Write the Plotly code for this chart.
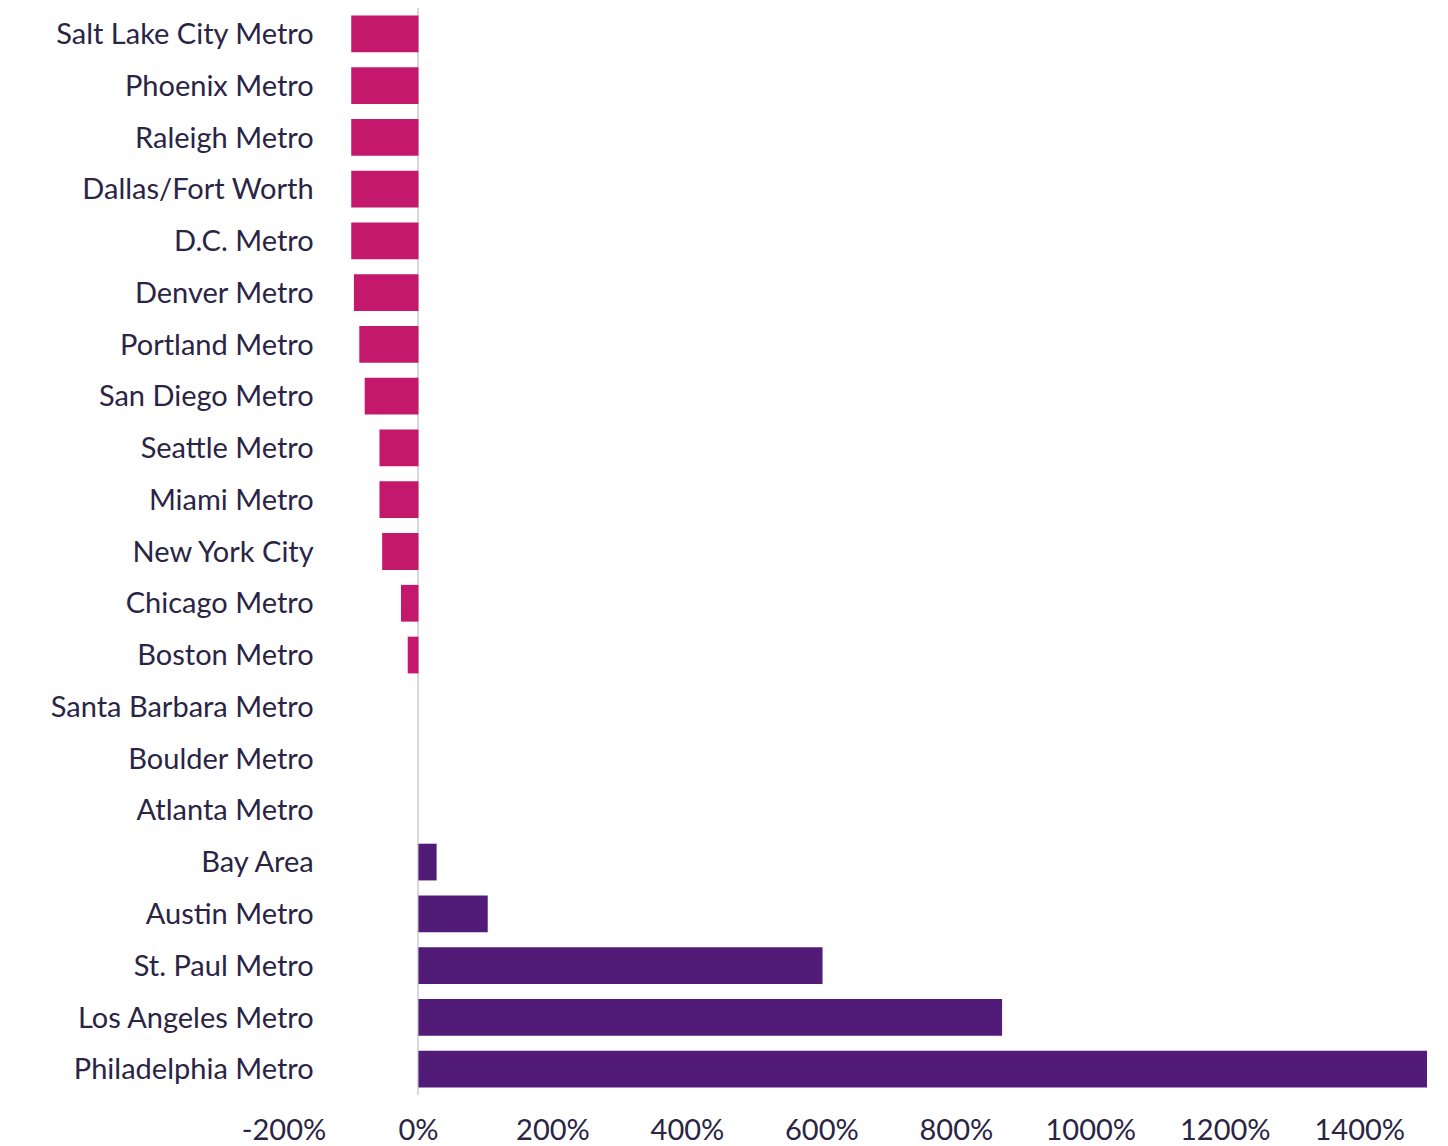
"""Change by metro: horizontal bar chart, negatives in magenta, positives in purple."""

import plotly.graph_objects as go

NEG_COLOR = "#C4186C"
POS_COLOR = "#521B78"
TEXT_COLOR = "#2A2445"

# top to bottom as shown
metros = [
    "Salt Lake City Metro",
    "Phoenix Metro",
    "Raleigh Metro",
    "Dallas/Fort Worth",
    "D.C. Metro",
    "Denver Metro",
    "Portland Metro",
    "San Diego Metro",
    "Seattle Metro",
    "Miami Metro",
    "New York City",
    "Chicago Metro",
    "Boston Metro",
    "Santa Barbara Metro",
    "Boulder Metro",
    "Atlanta Metro",
    "Bay Area",
    "Austin Metro",
    "St. Paul Metro",
    "Los Angeles Metro",
    "Philadelphia Metro",
]
change_pct = [
    -100, -100, -100, -100, -100, -96, -88, -80, -58, -58, -54,
    -26, -16, 0, 0, 0, 27, 103, 601, 868, 1502,
]

x_ticks = [-200, 0, 200, 400, 600, 800, 1000, 1200, 1400]
x_tick_labels = [f"{v}%" for v in x_ticks]

fig = go.Figure(
    go.Bar(
        x=change_pct,
        y=metros,
        orientation="h",
        marker_color=[NEG_COLOR if v < 0 else POS_COLOR for v in change_pct],
        marker_line_width=0,
        hovertemplate="%{y}: %{x}%<extra></extra>",
    )
)

# page body adds an 8px offset, so the figure is a bit smaller than the window
fig.update_layout(
    width=1440,
    height=1138,
    margin=dict(l=276, r=21, t=0, b=51),
    plot_bgcolor="white",
    paper_bgcolor="white",
    bargap=0.29,
    showlegend=False,
    font=dict(family="Lato", size=29, color=TEXT_COLOR),
    xaxis=dict(
        range=[-200, 1500],
        tickvals=x_ticks,
        ticktext=x_tick_labels,
        showgrid=False,
        zeroline=True,
        zerolinecolor="#D9D9D9",
        zerolinewidth=2,
        showline=False,
        ticks="",
        ticklabelstandoff=15,
        tickfont=dict(size=29),
    ),
    yaxis=dict(
        categoryorder="array",
        categoryarray=metros[::-1],
        anchor="free",
        position=0.026,
        showgrid=False,
        zeroline=False,
        showline=False,
        ticks="",
        tickfont=dict(size=29),
    ),
)

fig.write_html("out.html")
